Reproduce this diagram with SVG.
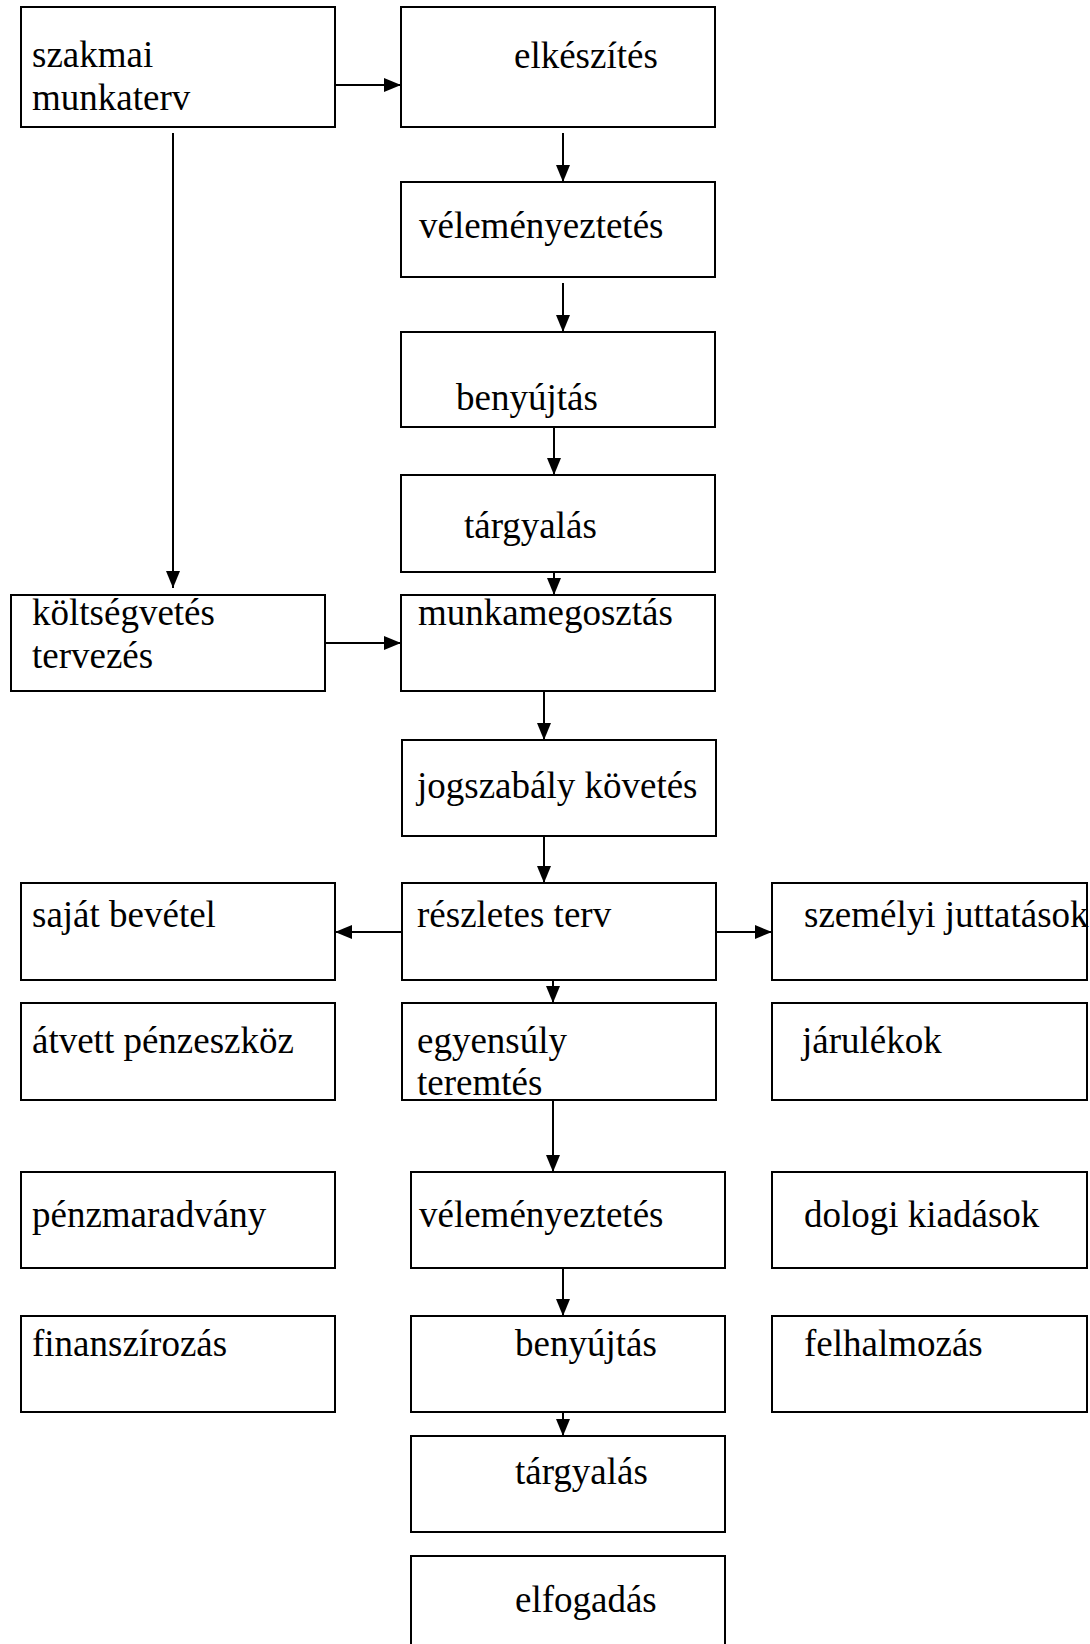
<svg xmlns="http://www.w3.org/2000/svg" width="1090" height="1644" viewBox="0 0 1090 1644">
<style>
rect{fill:#fff;stroke:#000;stroke-width:2}
text{font-family:"Liberation Serif","Times New Roman",serif;font-size:37px;fill:#000}
.c line{stroke:#000;stroke-width:2}
</style>
<defs>
<marker id="ah" markerUnits="userSpaceOnUse" markerWidth="19" markerHeight="16" refX="17" refY="7" orient="auto">
<path d="M0,0 L17,7 L0,14 z" fill="#000"/>
</marker>
</defs>
<rect x="0" y="0" width="1090" height="1644" style="stroke:none"/>
<g id="n1"><rect x="21" y="7" width="314" height="120"/><text x="32" y="67">szakmai</text><text x="32" y="110">munkaterv</text></g>
<g id="n2"><rect x="401" y="7" width="314" height="120"/><text x="514" y="68">elkészítés</text></g>
<g id="n3"><rect x="401" y="182" width="314" height="95"/><text x="419" y="238">véleményeztetés</text></g>
<g id="n4"><rect x="401" y="332" width="314" height="95"/><text x="456" y="410">benyújtás</text></g>
<g id="n5"><rect x="401" y="475" width="314" height="97"/><text x="464" y="538">tárgyalás</text></g>
<g id="n6"><rect x="11" y="595" width="314" height="96"/><text x="32" y="625">költségvetés</text><text x="32" y="668">tervezés</text></g>
<g id="n7"><rect x="401" y="595" width="314" height="96"/><text x="418" y="625">munkamegosztás</text></g>
<g id="n8"><rect x="402" y="740" width="314" height="96"/><text x="417" y="798">jogszabály követés</text></g>
<g id="n9"><rect x="402" y="883" width="314" height="97"/><text x="417" y="927">részletes terv</text></g>
<g id="n10"><rect x="21" y="883" width="314" height="97"/><text x="32" y="927">saját bevétel</text></g>
<g id="n11"><rect x="772" y="883" width="315" height="97"/><text x="804" y="927">személyi juttatások</text></g>
<g id="n12"><rect x="21" y="1003" width="314" height="97"/><text x="32" y="1053">átvett pénzeszköz</text></g>
<g id="n13"><rect x="402" y="1003" width="314" height="97"/><text x="417" y="1053">egyensúly</text><text x="417" y="1095">teremtés</text></g>
<g id="n14"><rect x="772" y="1003" width="315" height="97"/><text x="802" y="1053">járulékok</text></g>
<g id="n15"><rect x="21" y="1172" width="314" height="96"/><text x="32" y="1227">pénzmaradvány</text></g>
<g id="n16"><rect x="411" y="1172" width="314" height="96"/><text x="419" y="1227">véleményeztetés</text></g>
<g id="n17"><rect x="772" y="1172" width="315" height="96"/><text x="804" y="1227">dologi kiadások</text></g>
<g id="n18"><rect x="21" y="1316" width="314" height="96"/><text x="32" y="1356">finanszírozás</text></g>
<g id="n19"><rect x="411" y="1316" width="314" height="96"/><text x="515" y="1356">benyújtás</text></g>
<g id="n20"><rect x="772" y="1316" width="315" height="96"/><text x="804" y="1356">felhalmozás</text></g>
<g id="n21"><rect x="411" y="1436" width="314" height="96"/><text x="515" y="1484">tárgyalás</text></g>
<g id="n22"><rect x="411" y="1556" width="314" height="100"/><text x="515" y="1612">elfogadás</text></g>
<g id="connectors" class="c">
<line x1="335" y1="85" x2="401" y2="85" marker-end="url(#ah)"/>
<line x1="173" y1="133" x2="173" y2="588" marker-end="url(#ah)"/>
<line x1="563" y1="133" x2="563" y2="182" marker-end="url(#ah)"/>
<line x1="563" y1="283" x2="563" y2="332" marker-end="url(#ah)"/>
<line x1="554" y1="427" x2="554" y2="475" marker-end="url(#ah)"/>
<line x1="554" y1="572" x2="554" y2="595" marker-end="url(#ah)"/>
<line x1="325" y1="643" x2="401" y2="643" marker-end="url(#ah)"/>
<line x1="544" y1="692" x2="544" y2="740" marker-end="url(#ah)"/>
<line x1="544" y1="836" x2="544" y2="883" marker-end="url(#ah)"/>
<line x1="402" y1="932" x2="335" y2="932" marker-end="url(#ah)"/>
<line x1="716" y1="932" x2="772" y2="932" marker-end="url(#ah)"/>
<line x1="553" y1="980" x2="553" y2="1003" marker-end="url(#ah)"/>
<line x1="553" y1="1100" x2="553" y2="1172" marker-end="url(#ah)"/>
<line x1="563" y1="1268" x2="563" y2="1316" marker-end="url(#ah)"/>
<line x1="563" y1="1412" x2="563" y2="1436" marker-end="url(#ah)"/>
</g>
</svg>
